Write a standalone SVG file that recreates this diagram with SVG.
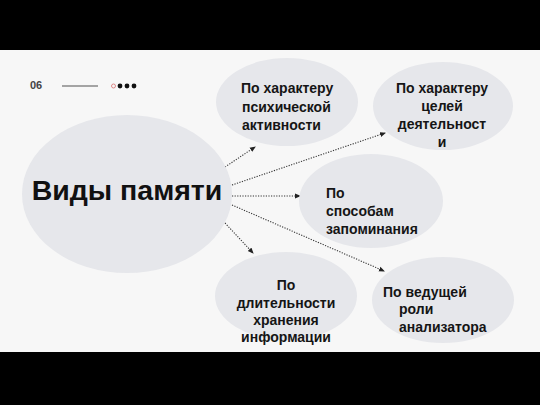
<svg xmlns="http://www.w3.org/2000/svg" width="540" height="405" viewBox="0 0 540 405">
<style>
.node{fill:#e6e7eb}
.t{font-family:"Liberation Sans",Arial,sans-serif;font-size:14px;font-weight:bold;fill:#151515}
.c{text-anchor:middle}
.conn{stroke:#333;stroke-width:1.1;stroke-dasharray:1.2 1.4;fill:none;marker-end:url(#ah)}
</style>
<defs>
<marker id="ah" viewBox="0 0 6 6" refX="5" refY="3" markerWidth="6" markerHeight="6" markerUnits="userSpaceOnUse" orient="auto">
<path d="M0,0.5 L6,3 L0,5.5 Z" fill="#222"/>
</marker>
</defs>
<rect x="0" y="0" width="540" height="405" fill="#000"/>
<rect x="0" y="50" width="540" height="302" fill="#f7f7f7"/>
<g id="header">
<text x="30" y="89" font-family="'Liberation Sans',Arial,sans-serif" font-size="11" font-weight="bold" fill="#444">06</text>
<line x1="62" y1="86" x2="98" y2="86" stroke="#888" stroke-width="1.3"/>
<circle cx="113.5" cy="86" r="2" fill="none" stroke="#d88" stroke-width="1"/>
<circle cx="120" cy="86" r="2.4" fill="#111"/>
<circle cx="127" cy="86" r="2.4" fill="#111"/>
<circle cx="134" cy="86" r="2.4" fill="#111"/>
</g>
<g id="connectors">
<line class="conn" x1="225" y1="167" x2="255" y2="147"/>
<line class="conn" x1="232" y1="185" x2="385" y2="133"/>
<line class="conn" x1="232" y1="196" x2="300" y2="196"/>
<line class="conn" x1="232" y1="205" x2="384" y2="271"/>
<line class="conn" x1="225" y1="223" x2="253" y2="253"/>
</g>
<g id="main">
<ellipse class="node" cx="127" cy="194" rx="105" ry="79"/>
<text x="127" y="200" class="c" font-family="'Liberation Sans',Arial,sans-serif" font-size="28.5" font-weight="bold" fill="#111">Виды памяти</text>
</g>
<g id="n1">
<ellipse class="node" cx="287" cy="102" rx="71" ry="44"/>
<text class="t" x="241" y="93">По  характеру</text>
<text class="t" x="242" y="112">психической</text>
<text class="t" x="242" y="130">активности</text>
</g>
<g id="n2">
<ellipse class="node" cx="443" cy="106" rx="70" ry="44"/>
<text class="t c" x="442" y="93">По характеру</text>
<text class="t c" x="442" y="111">целей</text>
<text class="t c" x="442" y="129">деятельност</text>
<text class="t c" x="442" y="147">и</text>
</g>
<g id="n3">
<ellipse class="node" cx="371" cy="201" rx="72" ry="47"/>
<text class="t" x="326" y="198"> По</text>
<text class="t" x="326" y="216">способам</text>
<text class="t" x="326" y="234">запоминания</text>
</g>
<g id="n4">
<ellipse class="node" cx="286" cy="296" rx="71" ry="44"/>
<text class="t c" x="286" y="290">По</text>
<text class="t c" x="286" y="307.5">длительности</text>
<text class="t c" x="286" y="325">хранения</text>
<text class="t c" x="286" y="342">информации</text>
</g>
<g id="n5">
<ellipse class="node" cx="443" cy="300" rx="71" ry="43"/>
<text class="t" x="383" y="297">По ведущей</text>
<text class="t" x="399" y="314">роли</text>
<text class="t" x="399" y="332">анализатора</text>
</g>
<rect x="0" y="352" width="540" height="53" fill="#000"/>
</svg>
